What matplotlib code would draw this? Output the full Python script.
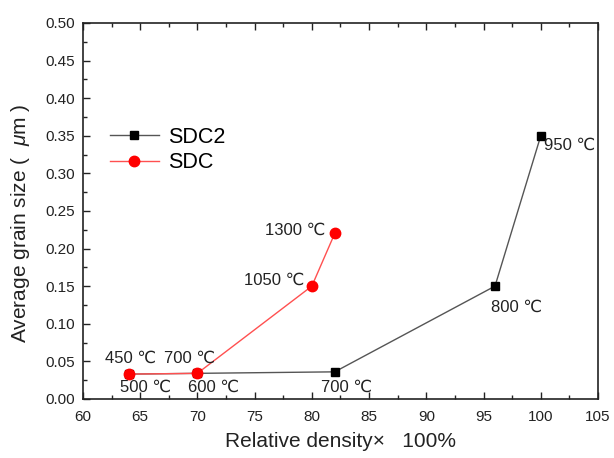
import matplotlib
matplotlib.use("Agg")
import matplotlib.pyplot as plt

plt.rcParams['font.family'] = ['Liberation Sans', 'DejaVu Sans']
plt.rcParams['mathtext.fontset'] = 'custom'
plt.rcParams['mathtext.it'] = 'Liberation Sans:italic'
plt.rcParams['mathtext.rm'] = 'Liberation Sans'

# data
sdc2_x = [64, 70, 82, 96, 100]
sdc2_y = [0.033, 0.034, 0.036, 0.15, 0.35]
sdc2_labels = ["500 ℃", "600 ℃", "700 ℃", "800 ℃", "950 ℃"]
sdc_x = [64, 70, 80, 82]
sdc_y = [0.033, 0.034, 0.15, 0.22]
sdc_labels = ["450 ℃", "700 ℃", "1050 ℃", "1300 ℃"]

# label offsets (data units) per point
sdc2_off = [(1.5, -0.018), (1.45, -0.018), (1.0, -0.021), (1.9, -0.028), (2.5, -0.013)]
sdc_off = [(0.2, 0.021), (-0.65, 0.020), (-3.3, 0.008), (-3.5, 0.004)]

fig = plt.figure(figsize=(6.14, 4.58), dpi=100)
ax = fig.add_axes([0.135, 0.129, 0.839, 0.821])

ax.plot(sdc2_x, sdc2_y, color='#555555', lw=1.0, marker='s', ms=6,
        mfc='black', mec='black', label='SDC2')
ax.plot(sdc_x, sdc_y, color='#ff5050', lw=1.0, marker='o', ms=7.5,
        mfc='red', mec='red', label='SDC')

for x, y, t, (dx, dy) in zip(sdc2_x, sdc2_y, sdc2_labels, sdc2_off):
    ax.text(x + dx, y + dy, t, ha='center', va='center', fontsize=12, color='#222222')
for x, y, t, (dx, dy) in zip(sdc_x, sdc_y, sdc_labels, sdc_off):
    ax.text(x + dx, y + dy, t, ha='center', va='center', fontsize=12, color='#222222')

ax.set_xlim(60, 105)
ax.set_ylim(0, 0.50)
ax.set_xticks(range(60, 106, 5))
ax.set_yticks([i * 0.05 for i in range(11)])
ax.set_yticklabels([f"{i*0.05:.2f}" for i in range(11)])
ax.set_xticks([62.5 + 5 * i for i in range(9)], minor=True)
ax.set_yticks([0.025 + 0.05 * i for i in range(10)], minor=True)
ax.tick_params(which='both', direction='in', top=True, right=False, labelsize=11, colors='#222222')
ax.tick_params(axis='x', which='major', pad=8)
ax.tick_params(axis='y', which='major', pad=6)
ax.tick_params(which='major', length=5, width=1)
ax.tick_params(which='minor', length=3, width=1)
for s in ax.spines.values():
    s.set_linewidth(1.2)
    s.set_color('#222222')

ax.set_xlabel("Relative density×   100%", fontsize=15, color='#222222', labelpad=6)
ax.set_ylabel("Average grain size (  $\\mu$m )", fontsize=15, color='#222222')
ax.yaxis.set_label_coords(-0.099, 0.468)

ax.legend(loc='center left', bbox_to_anchor=(0.052, 0.662), frameon=False, fontsize=15.5,
          handlelength=2.3, handletextpad=0.4, labelspacing=0.2,
          borderpad=0, borderaxespad=0)

fig.savefig("out.png", dpi=100)
